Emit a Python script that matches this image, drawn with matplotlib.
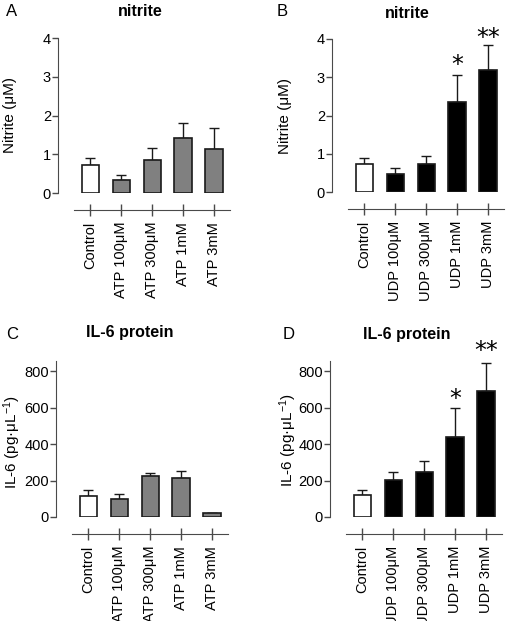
import matplotlib
matplotlib.use("Agg")
import matplotlib.pyplot as plt
import numpy as np

plt.rcParams['font.family'] = ['Liberation Sans', 'DejaVu Sans']
plt.rcParams['mathtext.fontset'] = 'custom'
plt.rcParams['mathtext.rm'] = 'Liberation Sans'
plt.rcParams['mathtext.it'] = 'Liberation Sans:italic'
plt.rcParams['mathtext.bf'] = 'Liberation Sans:bold'

# ---- data ----
atp_labels = ["Control", "ATP 100\u03bcM", "ATP 300\u03bcM", "ATP 1mM", "ATP 3mM"]
udp_labels = ["Control", "UDP 100\u03bcM", "UDP 300\u03bcM", "UDP 1mM", "UDP 3mM"]

nitrite_atp = [0.72, 0.33, 0.84, 1.42, 1.13]
nitrite_atp_err = [0.18, 0.13, 0.31, 0.38, 0.54]
nitrite_udp = [0.72, 0.48, 0.74, 2.35, 3.18]
nitrite_udp_err = [0.18, 0.15, 0.19, 0.72, 0.67]

il6_atp = [115, 100, 222, 212, 20]
il6_atp_err = [35, 25, 18, 38, 3]
il6_udp = [118, 203, 248, 437, 688]
il6_udp_err = [32, 42, 60, 158, 155]

nitrite_udp_sig = ["", "", "", "*", "**"]
il6_udp_sig = ["", "", "", "*", "**"]

W, H = 507, 621
fig = plt.figure(figsize=(W / 100, H / 100), dpi=100)

AX_COL = '#4a4a4a'
GRAY = '#808080'


def px_axes(left, top, right, bottom):
    return fig.add_axes([left / W, 1 - bottom / H, (right - left) / W, (bottom - top) / H])


def panel(ax, labels, vals, errs, colors, ymax, yticks, spine_top, sig=None, sig_off=None):
    x = np.arange(len(vals))
    ax.bar(x, vals, width=0.56, color=colors, edgecolor='#1a1a1a', linewidth=1.2, zorder=2)
    ax.errorbar(x, vals, yerr=[np.zeros(len(errs)), errs], fmt='none', ecolor='#1a1a1a',
                elinewidth=1.0, capsize=3.5, capthick=1.0, zorder=1)
    ax.set_ylim(0, ymax)
    ax.set_xlim(-1.05, 4.55)
    ax.set_yticks(yticks)
    ax.set_xticks(x)
    ax.tick_params(axis='y', labelsize=10.5, direction='out', length=4, width=1, color=AX_COL, pad=1)
    ax.tick_params(axis='x', direction='inout', length=9, width=1, color=AX_COL, pad=4,
                   labelrotation=90, labelsize=10.5)
    ax.set_xticklabels(labels)
    for s in ['top', 'right']:
        ax.spines[s].set_visible(False)
    ax.spines['left'].set_color(AX_COL)
    ax.spines['bottom'].set_color(AX_COL)
    ax.spines['left'].set_bounds(0, spine_top)
    ax.spines['bottom'].set_position(('outward', 12.2))
    ax.spines['bottom'].set_bounds(-0.52, 4.52)
    ax.patch.set_visible(False)
    if sig:
        for i, s in enumerate(sig):
            if s:
                ax.annotate(s, xy=(x[i], vals[i] + errs[i]), xytext=(0, sig_off[i]),
                            textcoords='offset points', ha='center', va='center',
                            fontsize=17, family='DejaVu Sans', annotation_clip=False)


def ftext(xp, yp, s, **kw):
    fig.text(xp / W, 1 - yp / H, s, ha='center', va='center', **kw)


# Panel A
axA = px_axes(58, 38, 231, 193)
panel(axA, atp_labels, nitrite_atp, nitrite_atp_err, ['white'] + [GRAY] * 4, 4, [0, 1, 2, 3, 4], 4)
# Panel B
axB = px_axes(332, 39, 505, 192)
panel(axB, udp_labels, nitrite_udp, nitrite_udp_err, ['white'] + ['black'] * 4, 4, [0, 1, 2, 3, 4], 4,
      sig=nitrite_udp_sig, sig_off=[0, 0, 0, 7, 4.5])
# Panel C
axC = px_axes(56, 361, 229, 517)
panel(axC, atp_labels, il6_atp, il6_atp_err, ['white'] + [GRAY] * 4, 855, [0, 200, 400, 600, 800], 855)
# Panel D
axD = px_axes(330, 361, 503, 517)
panel(axD, udp_labels, il6_udp, il6_udp_err, ['white'] + ['black'] * 4, 855, [0, 200, 400, 600, 800], 855,
      sig=il6_udp_sig, sig_off=[0, 0, 0, 6.5, 9])

# y labels
ftext(10, 115, 'Nitrite (\u03bcM)', rotation=90, fontsize=11)
ftext(285, 116, 'Nitrite (\u03bcM)', rotation=90, fontsize=11)
ftext(12, 442, 'IL-6 (pg\u00b7\u03bcL$^{-1}$)', rotation=90, fontsize=11)
ftext(288, 440, 'IL-6 (pg\u00b7\u03bcL$^{-1}$)', rotation=90, fontsize=11)

# titles
ftext(140, 11, 'nitrite', fontsize=11.5, fontweight='bold')
ftext(407, 13, 'nitrite', fontsize=11.5, fontweight='bold')
ftext(130, 332, 'IL-6 protein', fontsize=11.5, fontweight='bold')
ftext(407, 335, 'IL-6 protein', fontsize=11.5, fontweight='bold')

# panel letters
ftext(12, 12, 'A', fontsize=12)
ftext(282, 12, 'B', fontsize=12)
ftext(12, 335, 'C', fontsize=12)
ftext(289, 335, 'D', fontsize=12)

fig.savefig('out.png', dpi=100, facecolor='white')
